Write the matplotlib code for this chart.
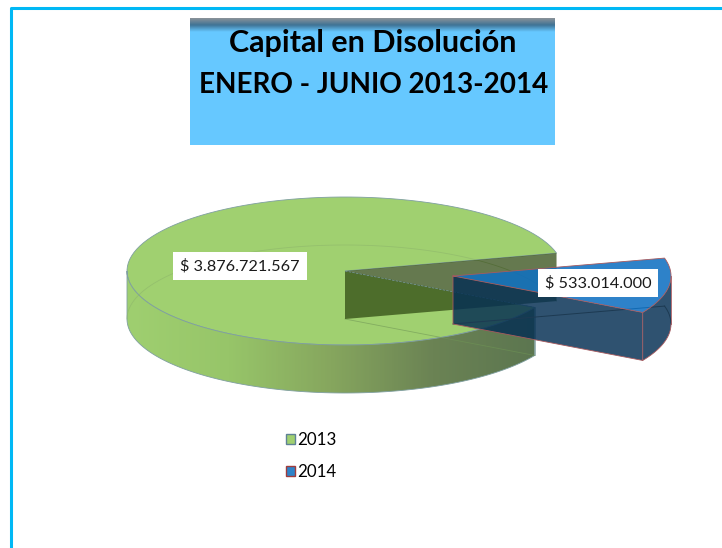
import numpy as np
import matplotlib.pyplot as plt
from matplotlib.colors import LinearSegmentedColormap
from matplotlib.patches import Patch, Polygon, Rectangle

# --- Data ---
years = ["2013", "2014"]
capital = [3876721567, 533014000]
value_labels = ["$ 3.876.721.567", "$ 533.014.000"]
title_lines = ["Capital en Disolución", "ENERO - JUNIO 2013-2014"]

# --- Pie geometry (pixels) ---
CX, CY = 345.0, 271.0
RX, RY = 218.0, 74.0
DEPTH = 48.0
EXPLODE = 0.5
START = 14.0   # where the 2013 slice starts, degrees ccw

plt.rcParams['font.family'] = ['Lato', 'DejaVu Sans']
fig = plt.figure(figsize=(7.22, 5.48), dpi=100)
ax = fig.add_axes([0, 0, 1, 1])
ax.set_xlim(0, 722)
ax.set_ylim(548, 0)
ax.axis('off')


def arc(a0, a1, cx=CX, cy=CY, n=120):
    t = np.radians(np.linspace(a0, a1, n))
    return np.column_stack([cx + RX*np.cos(t), cy - RY*np.sin(t)])


def down(pts):
    return pts + np.array([0, DEPTH])


# frame: only left and top sides are in the picture
ax.plot([11, 11, 722], [548, 8, 8], color='#00b8f5', lw=2.2)

# title box
ax.add_patch(Rectangle((190, 18), 365, 127, color='#66c8ff', lw=0, zorder=1))
band = LinearSegmentedColormap.from_list('band', ['#8a9299', '#3f7395', '#66c8ff'])
ax.imshow(np.linspace(0, 1, 40).reshape(-1, 1), cmap=band, extent=(190, 555, 32, 18),
          aspect='auto', zorder=1.1)
ax.set_xlim(0, 722)
ax.set_ylim(548, 0)
ax.text(373, 43, title_lines[0], ha='center', va='center', fontsize=22,
        fontweight='bold', color='black', zorder=2)
ax.text(374, 85, title_lines[1], ha='center', va='center', fontsize=20.1,
        fontweight='bold', color='black', zorder=2)

# slice angles come from the values
share = np.array(capital) / sum(capital)
g0 = START
g1 = START + 360*share[0]
b0 = g1 - 360
b1 = b0 + 360*share[1]
mid = np.radians((b0 + b1)/2)
BX = CX + EXPLODE*RX*np.cos(mid)
BY = CY - EXPLODE*RY*np.sin(mid)

# 2013 slice: top face
g_top = arc(g0, g1)
apex = np.array([[CX, CY]])
ax.add_patch(Polygon(np.vstack([apex, g_top]), fc='#a0d070', ec='#7f9fa0', lw=0.6, zorder=3))

# 2013 outer wall with gradient
front = arc(180, g1)
wall = np.vstack([front, down(front)[::-1]])
wall_cmap = LinearSegmentedColormap.from_list(
    'wall', ['#9fcf70', '#97c569', '#86a65e', '#6b8354', '#5c7650'])
im = ax.imshow(np.linspace(0, 1, 200).reshape(1, -1), cmap=wall_cmap,
               extent=(front[:, 0].min(), front[:, 0].max(), 400, 260),
               aspect='auto', zorder=3.1)
wall_patch = Polygon(wall, fc='none', ec='#7f9fa0', lw=0.6, zorder=3.2)
ax.add_patch(wall_patch)
im.set_clip_path(wall_patch)
ax.set_xlim(0, 722)
ax.set_ylim(548, 0)

# see-through outline of the disc underneath
ax.plot(*down(arc(g0, 180)).T, color='#8db56b', lw=0.6, alpha=0.6, zorder=3.3)
ax.plot([CX, g_top[-1, 0]], [CY + DEPTH, g_top[-1, 1] + DEPTH], color='#6f9555',
        lw=0.6, alpha=0.6, zorder=3.3)

# 2013 back cut wall, see-through
back = np.array([[CX, CY], g_top[0], g_top[0] + [0, DEPTH], [CX, CY + DEPTH]])
ax.add_patch(Polygon(back, fc='#324c14', alpha=0.75, ec='none', zorder=3.4))
ax.plot([CX, g_top[-1, 0]], [CY, g_top[-1, 1]], color='#7f9fa0', lw=0.5, ls='--', zorder=3.5)
ax.plot([g_top[-1, 0]]*2, [g_top[-1, 1], g_top[-1, 1] + DEPTH], color='#7f9fa0', lw=0.5, zorder=3.5)

# 2014 slice
b_top = arc(b0, b1, BX, BY)
bapex = np.array([[BX, BY]])
b_edge = '#a85a5e'
front_cut = np.array([[BX, BY], b_top[0], b_top[0] + [0, DEPTH], [BX, BY + DEPTH]])
ax.add_patch(Polygon(front_cut, fc='#052f53', alpha=0.83, ec='none', zorder=4))
# the rest of the wall past the right end is hidden by this part and the top face
b_front = arc(b0, 0, BX, BY, 80)
ax.add_patch(Polygon(np.vstack([b_front, down(b_front)[::-1]]), fc='#052f53', alpha=0.83,
                     ec='none', zorder=4))
ax.plot([BX, b_top[-1, 0]], [BY + DEPTH, b_top[-1, 1] + DEPTH], color='#1d3a52', lw=0.7, zorder=4.1)
ax.plot(*down(arc(0, b1, BX, BY, 40)).T, color='#1d3a52', lw=0.7, zorder=4.1)
ax.add_patch(Polygon(np.vstack([bapex, b_top]), fc='#0f70c1', alpha=0.87, ec='none', zorder=4.2))
ax.plot(*np.vstack([bapex, b_top, bapex]).T, color=b_edge, lw=0.6, zorder=4.3)
ax.plot(*np.vstack([[BX, BY], [BX, BY + DEPTH], b_top[0] + [0, DEPTH], b_top[0]]).T,
        color=b_edge, lw=0.6, zorder=4.3)
ax.plot(*down(b_front).T, color=b_edge, lw=0.6, zorder=4.3)
ax.plot([b_front[-1, 0]]*2, [b_front[-1, 1], b_front[-1, 1] + DEPTH], color=b_edge, lw=0.6, zorder=4.3)

# value labels
ax.text(240, 266, value_labels[0], ha='center', va='center', fontsize=11.7, color='#1a1a1a', zorder=5,
        bbox=dict(fc='white', ec='none', pad=5))
ax.text(598, 283, value_labels[1], ha='center', va='center', fontsize=11.7, color='#1a1a1a', zorder=5,
        bbox=dict(fc='white', ec='none', pad=5))

# legend
handles = [Patch(fc='#a0d070', ec='#5f8296', lw=1), Patch(fc='#2e83c9', ec='#a03c3c', lw=1)]
ax.legend(handles, years, loc='upper left', bbox_to_anchor=(286/722, 1 - 432/548),
          bbox_transform=ax.transAxes, frameon=False, fontsize=12.2, handlelength=0.55,
          handleheight=0.55, handletextpad=0.1, labelspacing=0.95, borderpad=0, borderaxespad=0)

fig.savefig('out.png', dpi=100)
